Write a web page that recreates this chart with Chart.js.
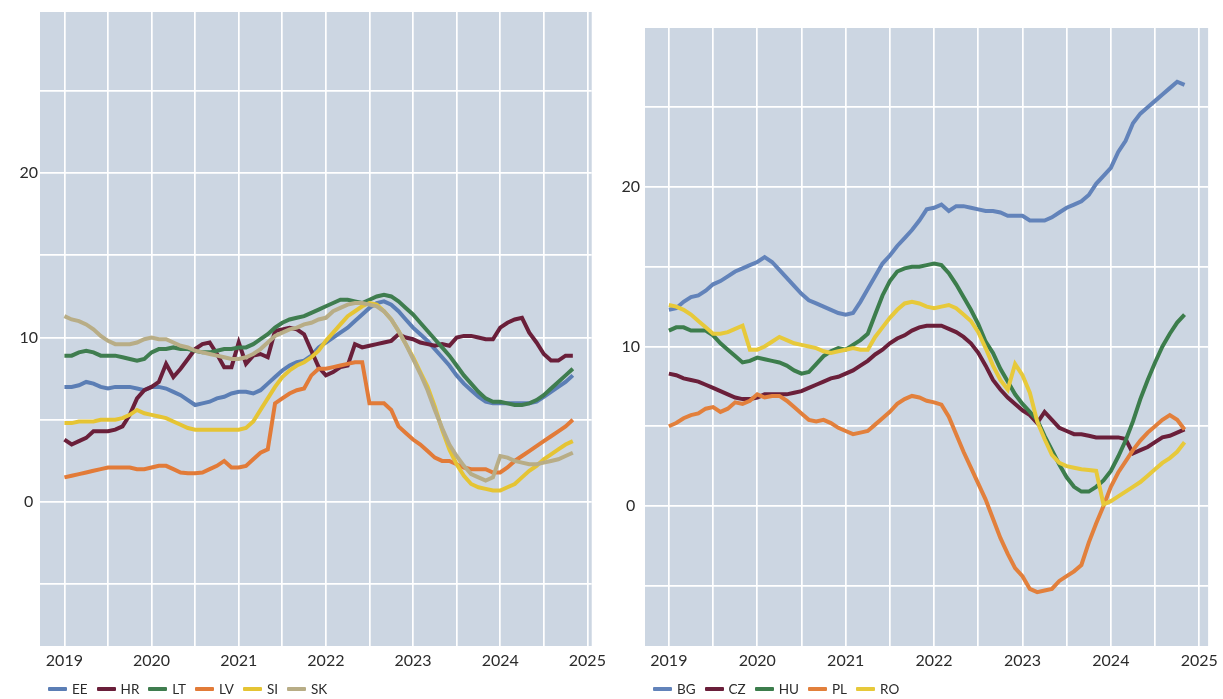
<!DOCTYPE html>
<html>
<head>
<meta charset="utf-8">
<script src="https://cdn.jsdelivr.net/npm/chart.js@4.4.1/dist/chart.umd.min.js"></script>
<style>
  html, body { margin: 0; padding: 0; background: #ffffff; }
  body { width: 1223px; height: 699px; position: relative; overflow: hidden; font-family: Lato, "Open Sans", sans-serif; }
  .panel { position: absolute; top: 0; height: 699px; }
  .legend { position: absolute; top: 681px; display: flex; align-items: center; font-size: 13.5px; color: #2b2b2b; }
  .legend .item { display: flex; align-items: center; margin-right: 9px; }
  .legend .sw { display: inline-block; width: 19px; height: 4px; margin-right: 5px; border-radius: 1px; }
</style>
</head>
<body>
<div class="panel" style="left:0;width:611px;"><canvas id="left"></canvas></div>
<div class="panel" style="left:611px;width:612px;"><canvas id="right"></canvas></div>
<div class="legend" id="legendLeft" style="left:48px;"></div>
<div class="legend" id="legendRight" style="left:653px;"></div>
<script>
// Monthly series, January 2019 to November 2024
const startYear = 2019;

// Left panel
const ee = [7.0, 7.0, 7.1, 7.3, 7.2, 7.0, 6.9, 7.0, 7.0, 7.0, 6.9, 6.8,
            7.0, 7.0, 6.9, 6.7, 6.5, 6.2, 5.9, 6.0, 6.1, 6.3, 6.4, 6.6,
            6.7, 6.7, 6.6, 6.8, 7.2, 7.6, 8.0, 8.3, 8.5, 8.6, 8.9, 9.4,
            9.7, 10.0, 10.3, 10.6, 11.0, 11.4, 11.8, 12.1, 12.2, 12.0, 11.6, 11.1,
            10.6, 10.2, 9.8, 9.3, 8.8, 8.3, 7.7, 7.2, 6.8, 6.4, 6.1, 6.0,
            6.0, 6.0, 6.0, 6.0, 6.0, 6.1, 6.4, 6.7, 7.0, 7.3, 7.7];
const hr = [3.8, 3.5, 3.7, 3.9, 4.3, 4.3, 4.3, 4.4, 4.6, 5.3, 6.3, 6.8,
            7.0, 7.3, 8.4, 7.6, 8.1, 8.7, 9.3, 9.6, 9.7, 9.0, 8.2, 8.2,
            9.7, 8.4, 8.9, 9.0, 8.8, 10.4, 10.5, 10.6, 10.5, 10.2, 9.2, 8.2,
            7.7, 7.9, 8.2, 8.3, 9.6, 9.4, 9.5, 9.6, 9.7, 9.8, 10.2, 10.0,
            9.9, 9.7, 9.6, 9.5, 9.6, 9.5, 10.0, 10.1, 10.1, 10.0, 9.9, 9.9,
            10.6, 10.9, 11.1, 11.2, 10.3, 9.7, 9.0, 8.6, 8.6, 8.9, 8.9];
const lt = [8.9, 8.9, 9.1, 9.2, 9.1, 8.9, 8.9, 8.9, 8.8, 8.7, 8.6, 8.7,
            9.1, 9.3, 9.3, 9.4, 9.3, 9.3, 9.2, 9.1, 9.1, 9.2, 9.3, 9.3,
            9.4, 9.4, 9.6, 9.9, 10.2, 10.6, 10.9, 11.1, 11.2, 11.3, 11.5, 11.7,
            11.9, 12.1, 12.3, 12.3, 12.2, 12.1, 12.3, 12.5, 12.6, 12.5, 12.2, 11.8,
            11.4, 10.9, 10.4, 9.9, 9.4, 8.9, 8.3, 7.7, 7.2, 6.7, 6.3, 6.1,
            6.1, 6.0, 5.9, 5.9, 6.0, 6.2, 6.5, 6.9, 7.3, 7.7, 8.1];
const lv = [1.5, 1.6, 1.7, 1.8, 1.9, 2.0, 2.1, 2.1, 2.1, 2.1, 2.0, 2.0,
            2.1, 2.2, 2.2, 2.0, 1.8, 1.75, 1.75, 1.8, 2.0, 2.2, 2.5, 2.1,
            2.1, 2.2, 2.6, 3.0, 3.2, 6.0, 6.3, 6.6, 6.8, 6.9, 7.7, 8.1,
            8.1, 8.2, 8.3, 8.4, 8.5, 8.5, 6.0, 6.0, 6.0, 5.6, 4.6, 4.2,
            3.8, 3.5, 3.1, 2.7, 2.5, 2.5, 2.3, 2.1, 2.0, 2.0, 2.0, 1.8,
            1.8, 2.1, 2.5, 2.8, 3.1, 3.4, 3.7, 4.0, 4.3, 4.6, 5.0];
const si = [4.8, 4.8, 4.9, 4.9, 4.9, 5.0, 5.0, 5.0, 5.1, 5.3, 5.6, 5.4,
            5.3, 5.2, 5.1, 4.9, 4.7, 4.5, 4.4, 4.4, 4.4, 4.4, 4.4, 4.4,
            4.4, 4.5, 4.9, 5.6, 6.3, 7.0, 7.6, 8.0, 8.3, 8.5, 8.8, 9.2,
            9.8, 10.3, 10.8, 11.3, 11.6, 11.9, 12.1, 12.0, 11.6, 11.1, 10.4, 9.6,
            8.8, 7.9, 7.0, 5.8, 4.4, 3.2, 2.3, 1.6, 1.1, 0.9, 0.8, 0.7,
            0.7, 0.9, 1.1, 1.5, 1.9, 2.2, 2.6, 2.9, 3.2, 3.5, 3.7];
const sk = [11.3, 11.1, 11.0, 10.8, 10.5, 10.1, 9.8, 9.6, 9.6, 9.6, 9.7, 9.9,
            10.0, 9.9, 9.9, 9.7, 9.5, 9.4, 9.2, 9.1, 9.0, 8.9, 8.8, 8.7,
            8.7, 8.8, 9.0, 9.3, 9.7, 10.1, 10.3, 10.5, 10.6, 10.8, 10.9, 11.1,
            11.2, 11.6, 11.8, 12.0, 12.1, 12.1, 12.0, 11.9, 11.6, 11.1, 10.4, 9.6,
            8.7, 7.8, 6.8, 5.6, 4.5, 3.5, 2.8, 2.2, 1.7, 1.5, 1.3, 1.5,
            2.8, 2.7, 2.5, 2.4, 2.3, 2.3, 2.4, 2.5, 2.6, 2.8, 3.0];

// Right panel
const bg = [12.3, 12.4, 12.8, 13.1, 13.2, 13.5, 13.9, 14.1, 14.4, 14.7, 14.9, 15.1,
            15.3, 15.6, 15.3, 14.8, 14.3, 13.8, 13.3, 12.9, 12.7, 12.5, 12.3, 12.1,
            12.0, 12.1, 12.8, 13.6, 14.4, 15.2, 15.7, 16.3, 16.8, 17.3, 17.9, 18.6,
            18.7, 18.9, 18.5, 18.8, 18.8, 18.7, 18.6, 18.5, 18.5, 18.4, 18.2, 18.2,
            18.2, 17.9, 17.9, 17.9, 18.1, 18.4, 18.7, 18.9, 19.1, 19.5, 20.2, 20.7,
            21.2, 22.2, 22.9, 24.0, 24.6, 25.0, 25.4, 25.8, 26.2, 26.6, 26.4];
const cz = [8.3, 8.2, 8.0, 7.9, 7.8, 7.6, 7.4, 7.2, 7.0, 6.8, 6.7, 6.7,
            6.8, 7.0, 7.0, 7.0, 7.0, 7.1, 7.2, 7.4, 7.6, 7.8, 8.0, 8.1,
            8.3, 8.5, 8.8, 9.1, 9.5, 9.8, 10.2, 10.5, 10.7, 11.0, 11.2, 11.3,
            11.3, 11.3, 11.1, 10.9, 10.6, 10.2, 9.6, 8.8, 7.9, 7.3, 6.8, 6.4,
            6.0, 5.7, 5.2, 5.9, 5.4, 4.9, 4.7, 4.5, 4.5, 4.4, 4.3, 4.3,
            4.3, 4.3, 4.2, 3.3, 3.5, 3.7, 4.0, 4.3, 4.4, 4.6, 4.8];
const hu = [11.0, 11.2, 11.2, 11.0, 11.0, 11.0, 10.7, 10.2, 9.8, 9.4, 9.0, 9.1,
            9.3, 9.2, 9.1, 9.0, 8.8, 8.5, 8.3, 8.4, 8.9, 9.4, 9.7, 9.9,
            9.8, 10.1, 10.4, 10.8, 12.0, 13.2, 14.1, 14.7, 14.9, 15.0, 15.0, 15.1,
            15.2, 15.1, 14.6, 13.9, 13.1, 12.3, 11.4, 10.3, 9.6, 8.6, 7.8, 7.0,
            6.4, 5.9, 5.4, 4.4, 3.5, 2.6, 1.8, 1.2, 0.9, 0.9, 1.2, 1.6,
            2.2, 3.1, 4.1, 5.3, 6.7, 7.9, 9.0, 10.0, 10.8, 11.5, 12.0];
const pl = [5.0, 5.2, 5.5, 5.7, 5.8, 6.1, 6.2, 5.9, 6.1, 6.5, 6.4, 6.6,
            7.0, 6.8, 6.9, 6.9, 6.6, 6.2, 5.8, 5.4, 5.3, 5.4, 5.2, 4.9,
            4.7, 4.5, 4.6, 4.7, 5.1, 5.5, 5.9, 6.4, 6.7, 6.9, 6.8, 6.6,
            6.5, 6.35, 5.6, 4.5, 3.4, 2.4, 1.4, 0.4, -0.8, -2.0, -3.0, -3.9,
            -4.4, -5.2, -5.4, -5.3, -5.2, -4.7, -4.4, -4.1, -3.7, -2.3, -1.1, 0.0,
            1.2, 2.1, 2.8, 3.5, 4.1, 4.6, 5.0, 5.4, 5.7, 5.4, 4.8];
const ro = [12.6, 12.5, 12.3, 12.0, 11.6, 11.2, 10.8, 10.8, 10.9, 11.1, 11.3, 9.8,
            9.8, 10.0, 10.3, 10.6, 10.4, 10.2, 10.1, 10.0, 9.9, 9.7, 9.6, 9.7,
            9.8, 9.9, 9.8, 9.8, 10.6, 11.2, 11.8, 12.3, 12.7, 12.8, 12.7, 12.5,
            12.4, 12.5, 12.6, 12.4, 12.0, 11.6, 10.9, 9.9, 8.8, 7.9, 7.3, 8.9,
            8.2, 7.1, 5.3, 4.2, 3.2, 2.7, 2.5, 2.4, 2.3, 2.25, 2.2, 0.1,
            0.3, 0.6, 0.9, 1.2, 1.5, 1.9, 2.3, 2.7, 3.0, 3.4, 4.0];

// Axis ticks
const yearTicks = [2019, 2020, 2021, 2022, 2023, 2024, 2025];
const valueTicks = [0, 10, 20];

const leftSeries = [
  { label: 'EE', data: ee, color: '#5b7eb5' },
  { label: 'HR', data: hr, color: '#6a1f3a' },
  { label: 'LT', data: lt, color: '#3f7d4f' },
  { label: 'LV', data: lv, color: '#e27b38' },
  { label: 'SI', data: si, color: '#e5c434' },
  { label: 'SK', data: sk, color: '#b8ad86' }
];
const rightSeries = [
  { label: 'BG', data: bg, color: '#6283ba' },
  { label: 'CZ', data: cz, color: '#6a1f3a' },
  { label: 'HU', data: hu, color: '#3c7d4c' },
  { label: 'PL', data: pl, color: '#e2803c' },
  { label: 'RO', data: ro, color: '#e7c93a' }
];

const plotBg = {
  id: 'plotBg',
  beforeDraw(chart) {
    const { ctx, chartArea: a } = chart;
    ctx.save();
    ctx.fillStyle = '#ccd6e2';
    ctx.fillRect(a.left, a.top, a.right - a.left, a.bottom - a.top);
    ctx.restore();
  }
};

function halfYears(min, max) {
  const out = [];
  for (let v = Math.ceil(min * 2) / 2; v <= max + 1e-9; v += 0.5) out.push({ value: v });
  return out;
}

function makeChart(id, series, cfg) {
  const n = series.length;
  const datasets = series.map((s, i) => ({
    label: s.label,
    data: s.data.map((v, k) => ({ x: startYear + k / 12, y: v })),
    borderColor: s.color,
    backgroundColor: s.color,
    borderWidth: 4,
    pointRadius: 0,
    tension: 0,
    order: n - 1 - i
  }));
  const canvas = document.getElementById(id);
  canvas.width = cfg.w; canvas.height = 699;
  canvas.style.width = cfg.w + 'px'; canvas.style.height = '699px';
  new Chart(canvas, {
    type: 'line',
    data: { datasets },
    plugins: [plotBg],
    options: {
      responsive: false,
      animation: false,
      layout: { padding: { top: cfg.top, right: cfg.right, bottom: 23, left: 0 } },
      plugins: { legend: { display: false }, tooltip: { enabled: false } },
      scales: {
        x: {
          type: 'linear', min: cfg.xmin, max: cfg.xmax,
          border: { display: false },
          grid: { color: '#ffffff', lineWidth: 1.7, drawTicks: false },
          afterBuildTicks: ax => { ax.ticks = halfYears(cfg.xmin, cfg.xmax); },
          afterFit: ax => { ax.height = 30; },
          ticks: {
            padding: 5, maxRotation: 0, autoSkip: false,
            color: '#2b2b2b', font: { family: 'Lato', size: 16 },
            callback: v => yearTicks.includes(v) ? String(v) : ''
          }
        },
        y: {
          type: 'linear', min: cfg.ymin, max: cfg.ymax,
          border: { display: false },
          grid: { color: '#ffffff', lineWidth: 1.7, drawTicks: false },
          afterBuildTicks: ax => { ax.ticks = [-5, 0, 5, 10, 15, 20, 25].map(v => ({ value: v })); },
          afterFit: ax => { ax.width = cfg.yw; },
          ticks: {
            padding: cfg.ypad, crossAlign: 'center',
            color: '#2b2b2b', font: { family: 'Lato', size: 16 },
            callback: v => valueTicks.includes(v) ? String(v) : ''
          }
        }
      }
    }
  });
}

function makeLegend(id, series) {
  const el = document.getElementById(id);
  series.forEach(s => {
    const item = document.createElement('span');
    item.className = 'item';
    const sw = document.createElement('span');
    sw.className = 'sw';
    sw.style.background = s.color;
    const tx = document.createElement('span');
    tx.textContent = s.label;
    item.appendChild(sw); item.appendChild(tx);
    el.appendChild(item);
  });
}

makeChart('left', leftSeries, { w: 611, top: 12, right: 10, yw: 40, ypad: 2, xmin: 2018.72, xmax: 2025.05, ymin: -8.75, ymax: 29.79 });
makeChart('right', rightSeries, { w: 612, top: 28, right: 11, yw: 34, ypad: 5, xmin: 2018.73, xmax: 2025.1, ymin: -8.78, ymax: 29.97 });
makeLegend('legendLeft', leftSeries);
makeLegend('legendRight', rightSeries);
</script>
</body>
</html>
